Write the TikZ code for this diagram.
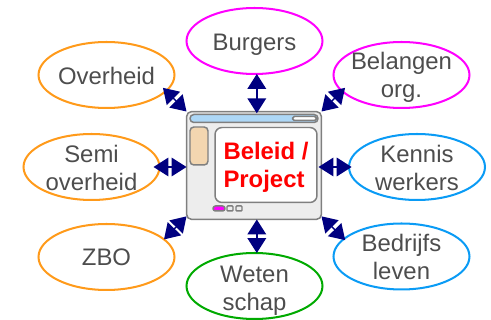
\documentclass[tikz,border=0pt]{standalone}
\usepackage{fontspec}
\setmainfont{Liberation Sans}
\usetikzlibrary{arrows.meta,shapes.geometric}
\definecolor{linkblue}{HTML}{000080}
\definecolor{textgrey}{HTML}{4D4D4D}
\definecolor{orangeline}{HTML}{FF9A1A}
\definecolor{blueline}{HTML}{0A9BF5}
\definecolor{greenline}{HTML}{00AA00}
\definecolor{pinkline}{HTML}{FF00FF}
\definecolor{framegrey}{HTML}{7F7F7F}
\definecolor{barblue}{HTML}{ADD7F6}
\definecolor{panelsand}{HTML}{F3D6B0}
\tikzset{
	party/.style={ellipse, draw, line width=1.15pt, minimum width=2.72cm, minimum height=1.32cm, inner sep=-8pt, outer sep=0pt, align=center, text=textgrey, font=\fontsize{13.6}{15.9}\selectfont},
	part/.style={rectangle, draw=framegrey, line width=0.85pt, rounded corners=2.2pt, inner sep=0pt, outer sep=0pt},
	link/.style={draw=linkblue, line width=0.8pt, {Triangle[length=8.5pt,width=10.6pt,fill=linkblue]}-{Triangle[length=8.5pt,width=10.6pt,fill=linkblue]}}
}

\begin{document}
\begin{tikzpicture}[x=0.02cm,y=-0.02cm]
	\useasboundingbox (0,0) rectangle (491,320);

	% Partijen
	\node[party, draw=orangeline, text height=11pt] (overheid) at (106.5,75) {Overheid};
	\node[party, draw=pinkline, text height=10.3pt, text depth=0pt] (burgers) at (254.5,41) {Burgers};
	\node[party, draw=pinkline, text height=28pt] (belangen) at (401.5,75) {Belangen\\org.};
	\node[party, draw=orangeline, text height=26.9pt] (semi) at (91.5,167) {Semi\\overheid};
	\node[party, draw=blueline, text height=26.9pt] (kennis) at (417,167) {Kennis\\werkers};
	\node[party, draw=orangeline] (zbo) at (106.5,257) {ZBO};
	\node[party, draw=blueline] (bedrijfs) at (401.5,256.5) {Bedrijfs\\leven};
	\node[party, draw=greenline, text height=30.3pt] (weten) at (254.5,286) {Weten\\schap};

	% Venster in het midden
	\node[part, fill=black!7, minimum width=2.7cm, minimum height=2.16cm, rounded corners=3pt] (window) at (254,165.5) {};
	\node[part, fill=barblue, minimum width=2.56cm, minimum height=0.16cm] (titlebar) at (254,118.5) {};
	\node[part, fill=white, minimum width=0.48cm, minimum height=0.08cm, rounded corners=1pt] (field) at (304.5,118.5) {};
	\node[part, fill=panelsand, minimum width=0.36cm, minimum height=0.76cm] (sidepanel) at (199,146) {};
	\node[part, fill=white, minimum width=2.04cm, minimum height=1.5cm, rounded corners=4pt, align=left, text=red, text height=28.6pt, font=\fontsize{13.6}{15.9}\selectfont\bfseries] (content) at (266,165) {Beleid /\\Project};

	% Knoppen onder
	\node[part, fill=pinkline, minimum width=0.24cm, minimum height=0.1cm, rounded corners=1.4pt] (button1) at (219,208.5) {};
	\node[part, fill=black!7, minimum width=0.12cm, minimum height=0.1cm, rounded corners=0.5pt] (button2) at (230,208.5) {};
	\node[part, fill=black!7, minimum width=0.12cm, minimum height=0.1cm, rounded corners=0.5pt] (button3) at (239,208.5) {};

	% Pijlen
	\draw[link, shorten <=-2.5pt] (overheid.-15) -- (window.north west);
	\draw[link, shorten >=-1pt] (burgers.-86) -- (burgers.-86 |- window.north);
	\draw[link, shorten <=-2.5pt] (belangen.-165) -- (window.north east);
	\draw[link, shorten <=-3.4pt] (semi.east) -- (semi.east -| window.west);
	\draw[link, shorten <=-1.5pt, shorten >=-1.7pt] (kennis.west) -- (kennis.west -| window.east);
	\draw[link] (zbo.17.7) -- (window.-143);
	\draw[link, shorten <=-1pt] (bedrijfs.163) -- (window.-37);
	\draw[link] (weten.86) -- (weten.86 |- window.south);
\end{tikzpicture}
\end{document}
